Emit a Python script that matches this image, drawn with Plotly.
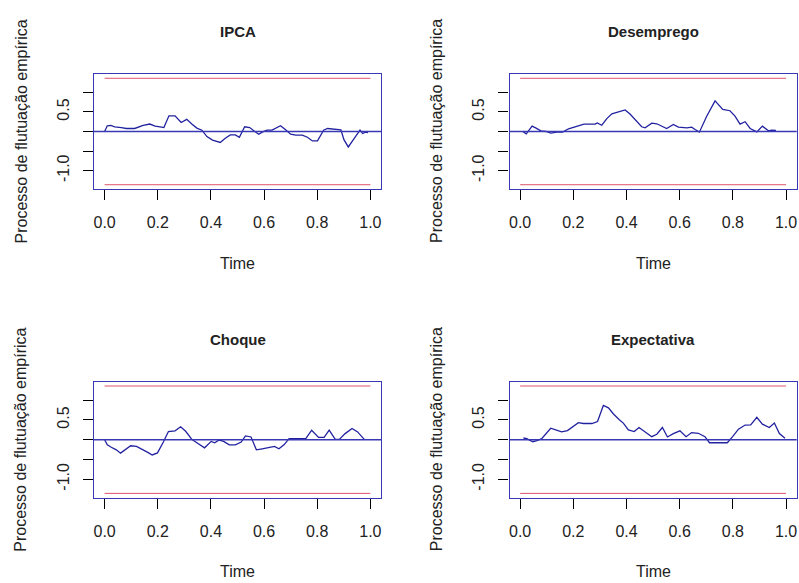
import plotly.graph_objects as go
from plotly.subplots import make_subplots

# panel titles
TITLES = ["IPCA", "Desemprego", "Choque", "Expectativa"]

IPCA_X = [0.0, 0.01, 0.023, 0.038, 0.063, 0.082, 0.113, 0.145, 0.17, 0.19, 0.214, 0.223,
          0.242, 0.265, 0.288, 0.309, 0.328, 0.347, 0.366, 0.385, 0.406, 0.435, 0.454,
          0.473, 0.492, 0.507, 0.527, 0.546, 0.565, 0.58, 0.593, 0.611, 0.63, 0.662,
          0.681, 0.7, 0.719, 0.744, 0.763, 0.782, 0.801, 0.824, 0.839, 0.857, 0.889,
          0.901, 0.917, 0.94, 0.961, 0.971, 0.981, 0.991]
IPCA_Y = [0.0, 0.146, 0.154, 0.12, 0.10, 0.077, 0.077, 0.154, 0.19, 0.137, 0.11, 0.10,
          0.40, 0.40, 0.23, 0.31, 0.19, 0.086, 0.034, -0.129, -0.22, -0.28, -0.17,
          -0.086, -0.086, -0.146, 0.12, 0.10, 0.0, -0.069, -0.017, 0.034, 0.034, 0.146,
          0.043, -0.069, -0.094, -0.094, -0.146, -0.24, -0.24, 0.034, 0.077, 0.06, 0.043,
          -0.214, -0.394, -0.17, 0.034, -0.05, -0.017, -0.026]

DESEMP_X = [0.01, 0.023, 0.035, 0.045, 0.06, 0.078, 0.098, 0.115, 0.138, 0.16, 0.182,
            0.213, 0.24, 0.282, 0.29, 0.307, 0.326, 0.345, 0.37, 0.395, 0.414, 0.436,
            0.457, 0.47, 0.495, 0.514, 0.539, 0.551, 0.576, 0.595, 0.627, 0.645, 0.658,
            0.674, 0.702, 0.733, 0.762, 0.789, 0.808, 0.827, 0.846, 0.865, 0.89, 0.911,
            0.934, 0.946, 0.962]
DESEMP_Y = [0.0, -0.06, 0.05, 0.137, 0.086, 0.017, 0.0, -0.043, -0.017, -0.017, 0.069,
            0.137, 0.19, 0.19, 0.22, 0.16, 0.33, 0.45, 0.50, 0.55, 0.44, 0.27, 0.12,
            0.094, 0.214, 0.197, 0.12, 0.077, 0.18, 0.11, 0.094, 0.11, 0.05, -0.017,
            0.394, 0.78, 0.566, 0.53, 0.394, 0.19, 0.25, 0.077, -0.009, 0.137, 0.017,
            0.034, 0.026]

CHOQUE_X = [0.0, 0.01, 0.025, 0.044, 0.06, 0.078, 0.098, 0.12, 0.145, 0.164, 0.179,
            0.199, 0.221, 0.24, 0.265, 0.286, 0.305, 0.328, 0.347, 0.376, 0.401, 0.414,
            0.431, 0.448, 0.469, 0.492, 0.514, 0.53, 0.551, 0.571, 0.593, 0.618, 0.639,
            0.656, 0.675, 0.694, 0.719, 0.757, 0.779, 0.805, 0.826, 0.845, 0.868, 0.883,
            0.905, 0.931, 0.952, 0.977]
CHOQUE_Y = [0.0, -0.13, -0.19, -0.257, -0.34, -0.25, -0.154, -0.17, -0.25, -0.326,
            -0.386, -0.334, -0.06, 0.206, 0.223, 0.326, 0.214, 0.009, -0.077, -0.206,
            -0.043, -0.077, -0.009, -0.043, -0.129, -0.129, -0.06, 0.094, 0.069, -0.257,
            -0.23, -0.206, -0.17, -0.23, -0.129, 0.026, 0.026, 0.026, 0.24, 0.06, 0.06,
            0.24, 0.009, 0.009, 0.154, 0.283, 0.197, 0.009]

EXPECT_X = [0.0125, 0.025, 0.048, 0.063, 0.081, 0.1, 0.115, 0.131, 0.156, 0.178, 0.2,
            0.219, 0.238, 0.27, 0.291, 0.303, 0.313, 0.332, 0.351, 0.373, 0.388, 0.407,
            0.429, 0.447, 0.47, 0.495, 0.514, 0.535, 0.554, 0.576, 0.601, 0.624, 0.645,
            0.67, 0.695, 0.712, 0.746, 0.779, 0.799, 0.821, 0.846, 0.867, 0.89, 0.911,
            0.937, 0.956, 0.975, 0.996]
EXPECT_Y = [0.043, 0.026, -0.051, -0.026, 0.026, 0.18, 0.29, 0.257, 0.197, 0.23, 0.326,
            0.43, 0.41, 0.41, 0.46, 0.694, 0.865, 0.805, 0.65, 0.505, 0.42, 0.248, 0.206,
            0.308, 0.197, 0.077, 0.137, 0.308, 0.069, 0.154, 0.223, 0.077, 0.18, 0.163,
            0.077, -0.077, -0.077, -0.077, 0.077, 0.266, 0.37, 0.377, 0.566, 0.394,
            0.308, 0.42, 0.154, 0.034]

# 5% critical boundary for the OLS-CUSUM process
BOUND_X = [0.0, 1.0]
BOUND = 1.358

X_TICKS = [0.0, 0.2, 0.4, 0.6, 0.8, 1.0]
Y_TICKS = [-1.0, -0.5, 0.0, 0.5, 1.0]
Y_TICKTEXT = ["-1.0", "", "", "0.5", ""]

PROC_COLOR = "#2222A0"
ZERO_COLOR = "#3838B4"
BOUND_COLOR = "#DF536B"
FONT = "Liberation Sans, Arial, sans-serif"

series = [(IPCA_X, IPCA_Y), (DESEMP_X, DESEMP_Y), (CHOQUE_X, CHOQUE_Y), (EXPECT_X, EXPECT_Y)]

W, H = 799, 583
COLS = [(94, 381), (509.5, 796.7)]
ROWS = [(74, 189), (381.7, 497.7)]

fig = make_subplots(rows=2, cols=2)


def add_label(text, x, y, size, angle=0):
    fig.add_annotation(text=text, x=x, y=y, xref="paper", yref="paper",
                       xanchor="center", yanchor="middle", textangle=angle,
                       showarrow=False, font=dict(size=size, color="#222222"))


for i, (xs, ys) in enumerate(series):
    r, c = i // 2 + 1, i % 2 + 1
    for sign in (1, -1):
        fig.add_trace(go.Scatter(x=BOUND_X, y=[sign * BOUND] * 2, mode="lines",
                                 line=dict(color=BOUND_COLOR, width=1),
                                 hoverinfo="skip"), row=r, col=c)
    fig.add_hline(y=0, line_color=ZERO_COLOR, line_width=1.4, row=r, col=c)
    fig.add_trace(go.Scatter(x=xs, y=ys, mode="lines",
                             line=dict(color=PROC_COLOR, width=1.3)), row=r, col=c)

    x0, x1 = COLS[c - 1]
    top, bot = ROWS[r - 1]
    fig.update_xaxes(domain=[x0 / W, x1 / W], range=[-0.04, 1.04],
                     tickvals=X_TICKS, tickformat=".1f", row=r, col=c)
    fig.update_yaxes(domain=[1 - bot / H, 1 - top / H], range=[-1.467, 1.467],
                     tickvals=Y_TICKS, ticktext=Y_TICKTEXT, tickangle=-90,
                     row=r, col=c)

    xm = (x0 + x1) / 2 / W
    add_label(f"<b>{TITLES[i]}</b>", xm, 1 - (top - 42) / H, 15)
    add_label("Time", xm, 1 - (bot + 74) / H, 16)
    add_label("Processo de flutuação empírica", (x0 - 73) / W,
              1 - (top + bot) / 2 / H, 16, angle=-90)

axis_style = dict(showgrid=False, zeroline=False, showline=True, mirror=True,
                  linecolor=ZERO_COLOR, linewidth=1.2, ticks="outside", ticklen=10,
                  tickcolor="black", tickwidth=1,
                  tickfont=dict(size=16, color="#222222"))
fig.update_xaxes(**axis_style, ticklabelstandoff=9)
fig.update_yaxes(**axis_style, ticklabelstandoff=8)

fig.update_layout(
    width=W, height=H,
    margin=dict(l=0, r=0, t=0, b=0),
    showlegend=False,
    plot_bgcolor="white",
    paper_bgcolor="white",
    font=dict(family=FONT),
)

# the page body has a default 8px margin; drop it so the figure sits at 0,0
fig.write_html("out.html", config={"displayModeBar": False},
               post_script="document.body.style.margin = '0';")
